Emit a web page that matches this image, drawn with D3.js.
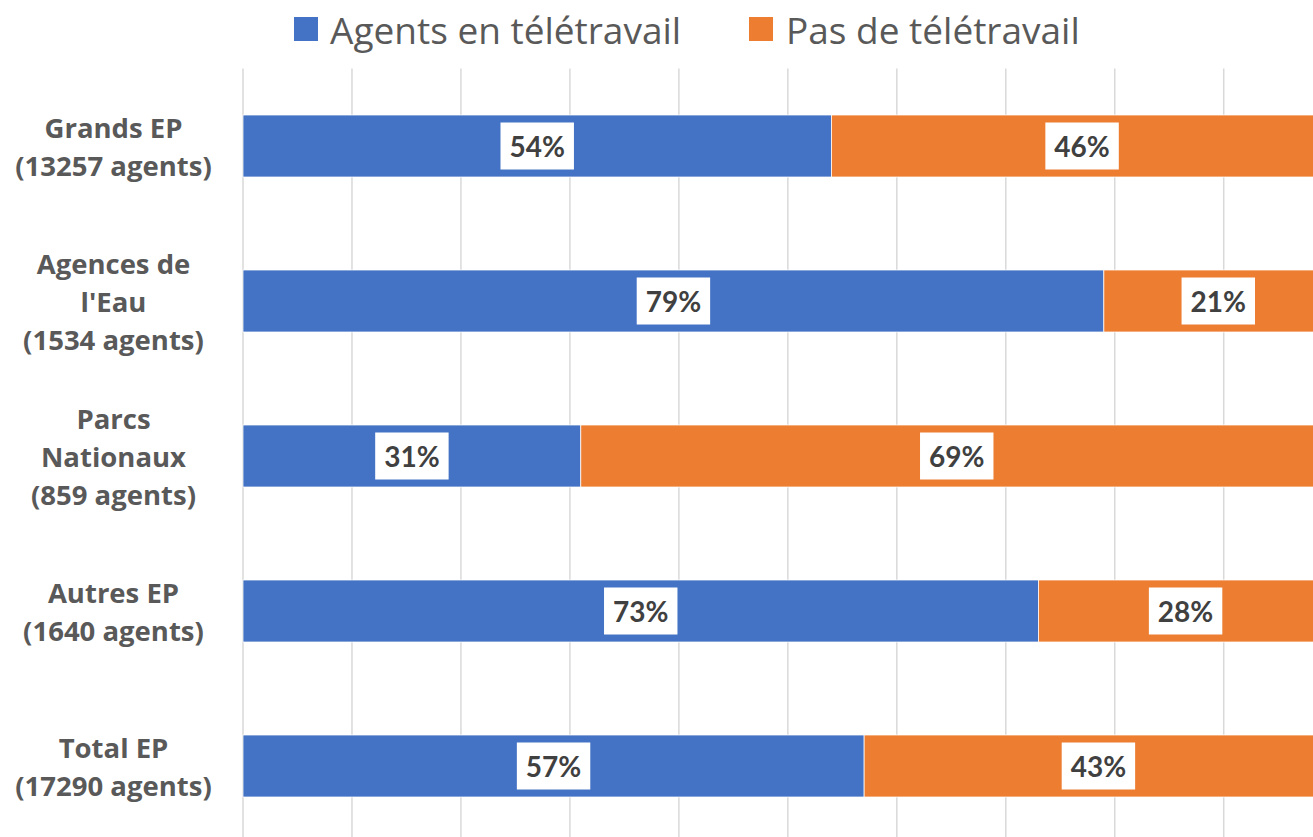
<!DOCTYPE html>
<html>
<head>
<meta charset="utf-8">
<script src="https://cdn.jsdelivr.net/npm/d3@7"></script>
<style>
  html, body { margin: 0; padding: 0; background: #ffffff; overflow: hidden; }
  svg { display: block; }
</style>
</head>
<body>
<svg id="chart" width="1313" height="837"></svg>
<script>
// ---- Data ----
const categories = [
  ["Grands EP", "(13257 agents)"],
  ["Agences de", "l'Eau", "(1534 agents)"],
  ["Parcs", "Nationaux", "(859 agents)"],
  ["Autres EP", "(1640 agents)"],
  ["Total EP", "(17290 agents)"]
];
const seriesNames = ["Agents en télétravail", "Pas de télétravail"];
const teletravail = [54, 79, 31, 73, 57];
const pasTeletravail = [46, 21, 69, 28, 43];
const xTicks = [0, 10, 20, 30, 40, 50, 60, 70, 80, 90, 100];

// ---- Layout ----
const colors = ["#4472C4", "#ED7D31"];
const svg = d3.select("#chart");
const plotLeft = 243, plotRight = 1332.7, plotTop = 68.5, plotBottom = 843.5;

const x = d3.scaleLinear().domain([0, 100]).range([plotLeft, plotRight]);
const y = d3.scaleBand().domain(d3.range(categories.length))
  .range([plotTop, plotBottom]).paddingInner(0.6).paddingOuter(0.3);

// gridlines
svg.append("g").selectAll("line").data(xTicks).join("line")
  .attr("x1", d => x(d)).attr("x2", d => x(d))
  .attr("y1", plotTop).attr("y2", plotBottom)
  .attr("stroke", "#d9d9d9").attr("stroke-width", 1.5);

// stacked data
const rows = categories.map((c, i) => ({ i, a: teletravail[i], b: pasTeletravail[i] }));
const stack = d3.stack().keys(["a", "b"])(rows);

const segs = [];
stack.forEach((layer, k) => {
  layer.forEach(d => {
    const x0 = Math.min(d[0], 100), x1 = Math.min(d[1], 100);
    segs.push({ k, i: d.data.i, x0, x1, v: d.data[layer.key] });
  });
});

svg.append("g").selectAll("rect").data(segs).join("rect")
  .attr("x", d => x(d.x0))
  .attr("width", d => x(d.x1) - x(d.x0))
  .attr("y", d => y(d.i))
  .attr("height", y.bandwidth())
  .attr("fill", d => colors[d.k])
  .attr("stroke", "#ffffff").attr("stroke-width", 0.75);

// data labels
const lbl = svg.append("g").selectAll("g").data(segs).join("g")
  .attr("transform", d => `translate(${(x(d.x0) + x(d.x1)) / 2},${y(d.i) + y.bandwidth() / 2})`);
lbl.append("text")
  .attr("text-anchor", "middle")
  .attr("dominant-baseline", "central")
  .attr("font-family", "Lato, 'Open Sans', sans-serif")
  .attr("font-weight", "bold")
  .attr("font-size", 28)
  .attr("fill", "#404040")
  .text(d => d.v + "%");
lbl.each(function() {
  const g = d3.select(this);
  const bb = g.select("text").node().getBBox();
  g.insert("rect", "text")
    .attr("x", -bb.width / 2 - 9).attr("y", -23.5)
    .attr("width", bb.width + 18).attr("height", 47)
    .attr("fill", "#ffffff");
});

// category labels
const lineH = 38;
const cat = svg.append("g").selectAll("text").data(categories).join("text")
  .attr("text-anchor", "middle")
  .attr("font-family", "'Open Sans', Lato, sans-serif")
  .attr("font-weight", "bold")
  .attr("font-size", 27.5)
  .attr("fill", "#595959");
cat.each(function(lines, i) {
  const cy = y(i) + y.bandwidth() / 2;
  d3.select(this).selectAll("tspan").data(lines).join("tspan")
    .attr("x", 113.5)
    .attr("y", (l, j) => cy + (j - (lines.length - 1) / 2) * lineH)
    .attr("dominant-baseline", "central")
    .text(l => l);
});

// legend
const legendPos = [{ sq: 294, tx: 330 }, { sq: 749, tx: 786 }];
const leg = svg.append("g").selectAll("g").data(seriesNames).join("g");
leg.append("rect")
  .attr("x", (d, i) => legendPos[i].sq).attr("y", 17)
  .attr("width", 24).attr("height", 24)
  .attr("fill", (d, i) => colors[i]);
leg.append("text")
  .attr("x", (d, i) => legendPos[i].tx).attr("y", 29)
  .attr("dominant-baseline", "central")
  .attr("font-family", "'Open Sans', Lato, sans-serif")
  .attr("font-size", 37)
  .attr("fill", "#595959")
  .text(d => d);
</script>
</body>
</html>
